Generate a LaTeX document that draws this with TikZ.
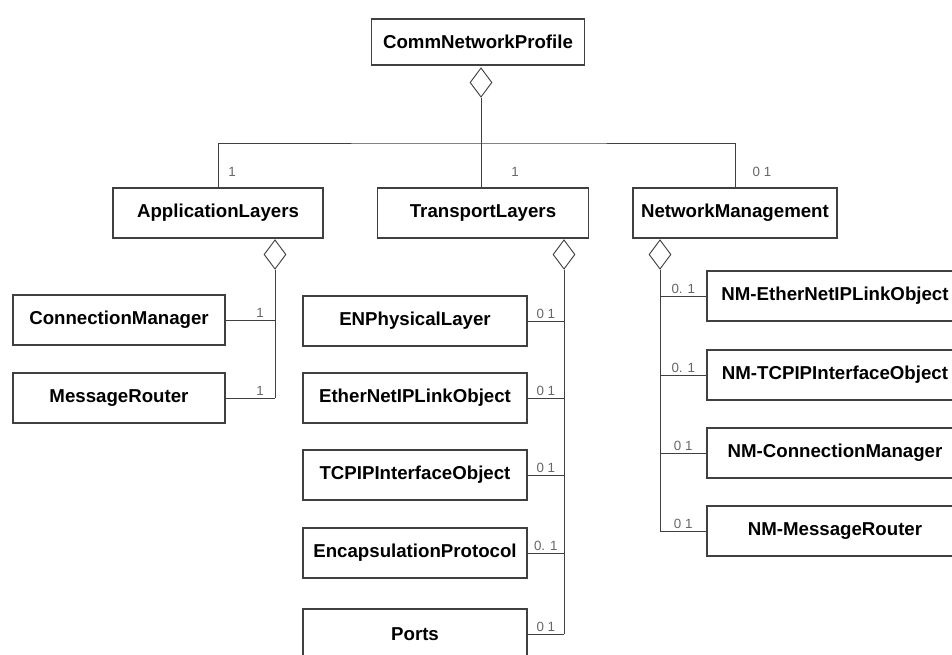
\documentclass[tikz,border=0pt]{standalone}
\usepackage{fontspec}
\setmainfont{Liberation Sans}
\usetikzlibrary{shapes.geometric}

\tikzset{
  classbox/.style={draw=black!75, line width=0.8pt, fill=white, inner sep=0pt,
    minimum height=37.5pt, font=\fontsize{14}{16}\selectfont\bfseries},
  aggr/.style={draw=black!75, line width=0.7pt, fill=white, shape=diamond,
    inner sep=0pt, minimum width=16.5pt, minimum height=22pt},
  link/.style={draw=black!75, line width=0.7pt},
  mult/.style={font=\fontsize{10}{12}\selectfont, text=black!60, inner sep=1.5pt},
}

\begin{document}
\begin{tikzpicture}[x=0.75pt, y=-0.75pt]
  \useasboundingbox (0,0) rectangle (952,655);
  \clip (0,0) rectangle (952,655);
  % Root class
  \node[classbox, minimum width=160pt, minimum height=34.5pt] (cnp) at (478,42) {CommNetworkProfile};
  \node[aggr] (cnpagg) at (481,82.5) {};
  % Layers
  \node[classbox, minimum width=157.5pt] (al) at (218,213) {ApplicationLayers};
  \node[classbox, minimum width=158pt] (tl) at (483,213) {TransportLayers};
  \node[classbox, minimum width=153pt] (nm) at (735,213) {NetworkManagement};
  \coordinate (bus) at (481,143);
  \draw[link] (cnpagg.south) -- (cnpagg.south |- tl.north);
  \draw[link] (al.north) |- (bus) -| (nm.north);
  \node[mult] at (232,172) {1};
  \node[mult] at (515,172) {1};
  \node[mult] at (762,172) {0 1};
  % Application layers
  \node[aggr] (alagg) at (275,254.5) {};
  \node[classbox, minimum width=159pt] (cm) at (119,320) {ConnectionManager};
  \node[classbox, minimum width=159pt] (mr) at (119,398) {MessageRouter};
  \draw[link] (alagg.south) -- (alagg.south |- mr.east);
  \foreach \n in {cm, mr}{
    \draw[link] (\n.east) -- node[mult, pos=0.7, above] {1} (\n.east -| alagg.south);
  }
  % Transport layers
  \node[aggr] (tlagg) at (564,254.5) {};
  \foreach \n/\t/\y/\m in {enp/ENPhysicalLayer/321/0 1, eip/EtherNetIPLinkObject/398/0 1,
      tcp/TCPIPInterfaceObject/475/0 1, encap/EncapsulationProtocol/553/0. 1, ports/Ports/634/0 1}{
    \node[classbox, minimum width=168pt] (\n) at (415,\y) {\t};
    \draw[link] (\n.east) -- node[mult, above] {\m} (\n.east -| tlagg.south);
  }
  \draw[link] (tlagg.south) -- (tlagg.south |- ports.east);
  % Network management
  \node[aggr] (nmagg) at (660,254.5) {};
  \foreach \n/\t/\y/\m in {nmeip/NM-EtherNetIPLinkObject/296/0. 1, nmtcp/NM-TCPIPInterfaceObject/375/0. 1,
      nmcm/NM-ConnectionManager/453/0 1, nmmr/NM-MessageRouter/531/0 1}{
    \node[classbox, minimum width=192pt] (\n) at (835,\y) {\t};
    \draw[link] (\n.west) -- node[mult, above] {\m} (\n.west -| nmagg.south);
  }
  \draw[link] (nmagg.south) -- (nmagg.south |- nmmr.west);
\end{tikzpicture}
\end{document}
